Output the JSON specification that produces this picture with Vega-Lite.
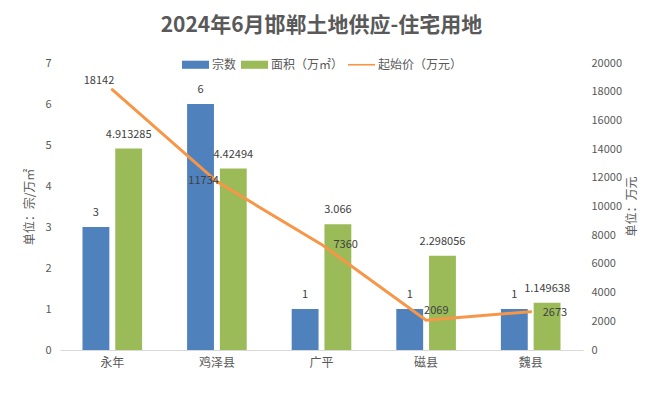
{
  "$schema": "https://vega.github.io/schema/vega-lite/v6.json",
  "width": 523,
  "height": 287,
  "autosize": "none",
  "padding": {"left": 60, "top": 63, "right": 62, "bottom": 45},
  "background": "white",
  "title": {
    "text": "2024年6月邯郸土地供应-住宅用地",
    "font": "Noto Sans CJK SC",
    "fontSize": 21,
    "fontWeight": "bold",
    "color": "#595959",
    "anchor": "middle",
    "offset": 15
  },
  "datasets": {
    "bars": [
      {"区域": "永年", "系列": "宗数", "值": 3},
      {"区域": "永年", "系列": "面积（万㎡）", "值": 4.913285},
      {"区域": "鸡泽县", "系列": "宗数", "值": 6},
      {"区域": "鸡泽县", "系列": "面积（万㎡）", "值": 4.42494},
      {"区域": "广平", "系列": "宗数", "值": 1},
      {"区域": "广平", "系列": "面积（万㎡）", "值": 3.066},
      {"区域": "磁县", "系列": "宗数", "值": 1},
      {"区域": "磁县", "系列": "面积（万㎡）", "值": 2.298056},
      {"区域": "魏县", "系列": "宗数", "值": 1},
      {"区域": "魏县", "系列": "面积（万㎡）", "值": 1.149638}
    ],
    "price": [
      {"区域": "永年", "系列": "起始价（万元）", "值": 18142},
      {"区域": "鸡泽县", "系列": "起始价（万元）", "值": 11734},
      {"区域": "广平", "系列": "起始价（万元）", "值": 7360},
      {"区域": "磁县", "系列": "起始价（万元）", "值": 2069},
      {"区域": "魏县", "系列": "起始价（万元）", "值": 2673}
    ]
  },
  "encoding": {
    "x": {
      "field": "区域",
      "type": "nominal",
      "sort": ["永年", "鸡泽县", "广平", "磁县", "魏县"],
      "scale": {"paddingInner": 0.43, "paddingOuter": 0.215},
      "axis": {
        "title": null,
        "labelAngle": 0,
        "domain": true,
        "domainColor": "#D9D9D9",
        "domainWidth": 1,
        "ticks": false,
        "grid": false,
        "labelPadding": 7,
        "labelFontSize": 12,
        "labelColor": "#595959",
        "labelFont": "Noto Sans CJK SC"
      }
    }
  },
  "layer": [
    {
      "data": {"name": "bars"},
      "encoding": {
        "xOffset": {
          "field": "系列",
          "type": "nominal",
          "sort": ["宗数", "面积（万㎡）"],
          "scale": {"paddingInner": 0.18, "paddingOuter": 0}
        },
        "y": {
          "field": "值",
          "type": "quantitative",
          "scale": {"domain": [0, 7], "nice": false},
          "axis": {
            "orient": "left",
            "values": [0, 1, 2, 3, 4, 5, 6, 7],
            "title": "单位：宗/万㎡",
            "titleFont": "Noto Sans CJK SC",
            "titleFontSize": 12,
            "titleFontWeight": "normal",
            "titleColor": "#595959",
            "titlePadding": 8,
            "domain": false,
            "ticks": false,
            "grid": false,
            "labelPadding": 9,
            "labelFontSize": 11,
            "labelColor": "#595959",
            "labelFont": "Noto Sans CJK SC"
          }
        },
        "color": {
          "field": "系列",
          "type": "nominal",
          "scale": {
            "domain": ["宗数", "面积（万㎡）", "起始价（万元）"],
            "range": ["#4F81BD", "#9BBB59", "#F79646"]
          },
          "legend": {
            "orient": "none",
            "legendX": 122,
            "legendY": -12,
            "direction": "horizontal",
            "title": null,
            "labelFont": "Noto Sans CJK SC",
            "labelFontSize": 12,
            "labelColor": "#595959",
            "labelOffset": 3,
            "columnPadding": 4,
            "symbolSize": 729,
            "symbolType": "M-1,-0.3H1V0.3H-1Z",
            "encode": {
              "symbols": {
                "update": {
                  "shape": {"signal": "datum.value === '起始价（万元）' ? 'M-1,-0.06H1V0.06H-1Z' : 'M-1,-0.3H1V0.3H-1Z'"},
                  "fill": {"signal": "scale('color', datum.value)"},
                  "stroke": {"value": "transparent"},
                  "strokeWidth": {"value": 0},
                  "opacity": {"value": 1}
                }
              }
            }
          }
        }
      },
      "layer": [
        {"mark": {"type": "bar"}},
        {
          "mark": {
            "type": "text",
            "baseline": "middle",
            "dy": -14,
            "font": "Noto Sans CJK SC",
            "fontSize": 11,
            "color": "#404040"
          },
          "encoding": {
            "text": {"field": "值", "type": "quantitative"},
            "color": {"value": "#404040"}
          }
        }
      ]
    },
    {
      "data": {"name": "price"},
      "encoding": {
        "y": {
          "field": "值",
          "type": "quantitative",
          "scale": {"domain": [0, 20000], "nice": false},
          "axis": {
            "orient": "right",
            "values": [0, 2000, 4000, 6000, 8000, 10000, 12000, 14000, 16000, 18000, 20000],
            "format": "d",
            "title": "单位：万元",
            "titleAngle": 270,
            "titleX": 48,
            "titleY": 143,
            "titleAlign": "center",
            "titleBaseline": "middle",
            "titleFont": "Noto Sans CJK SC",
            "titleFontSize": 12,
            "titleFontWeight": "normal",
            "titleColor": "#595959",
            "domain": false,
            "ticks": false,
            "grid": false,
            "labelPadding": 8,
            "labelFontSize": 11,
            "labelColor": "#595959",
            "labelFont": "Noto Sans CJK SC"
          }
        }
      },
      "layer": [
        {
          "mark": {"type": "line", "strokeWidth": 3, "strokeCap": "round"},
          "encoding": {
            "color": {
              "field": "系列",
              "type": "nominal",
              "scale": {
                "domain": ["宗数", "面积（万㎡）", "起始价（万元）"],
                "range": ["#4F81BD", "#9BBB59", "#F79646"]
              }
            }
          }
        },
        {
          "transform": [{"filter": "datum['区域'] === '永年'"}],
          "mark": {"type": "text", "align": "right", "baseline": "middle", "dx": 2, "dy": -9, "font": "Noto Sans CJK SC", "fontSize": 11, "color": "#404040"},
          "encoding": {"text": {"field": "值", "type": "quantitative"}}
        },
        {
          "transform": [{"filter": "datum['区域'] === '鸡泽县'"}],
          "mark": {"type": "text", "align": "right", "baseline": "middle", "dx": 2, "dy": -1, "font": "Noto Sans CJK SC", "fontSize": 11, "color": "#404040"},
          "encoding": {"text": {"field": "值", "type": "quantitative"}}
        },
        {
          "transform": [{"filter": "datum['区域'] === '广平' || datum['区域'] === '魏县'"}],
          "mark": {"type": "text", "align": "left", "baseline": "middle", "dx": 12, "dy": 1, "font": "Noto Sans CJK SC", "fontSize": 11, "color": "#404040"},
          "encoding": {"text": {"field": "值", "type": "quantitative"}}
        },
        {
          "transform": [{"filter": "datum['区域'] === '磁县'"}],
          "mark": {"type": "text", "align": "left", "baseline": "middle", "dx": -2, "dy": -9, "font": "Noto Sans CJK SC", "fontSize": 11, "color": "#404040"},
          "encoding": {"text": {"field": "值", "type": "quantitative"}}
        }
      ]
    }
  ],
  "resolve": {"scale": {"y": "independent"}},
  "config": {
    "view": {"stroke": null},
    "font": "Noto Sans CJK SC"
  }
}
